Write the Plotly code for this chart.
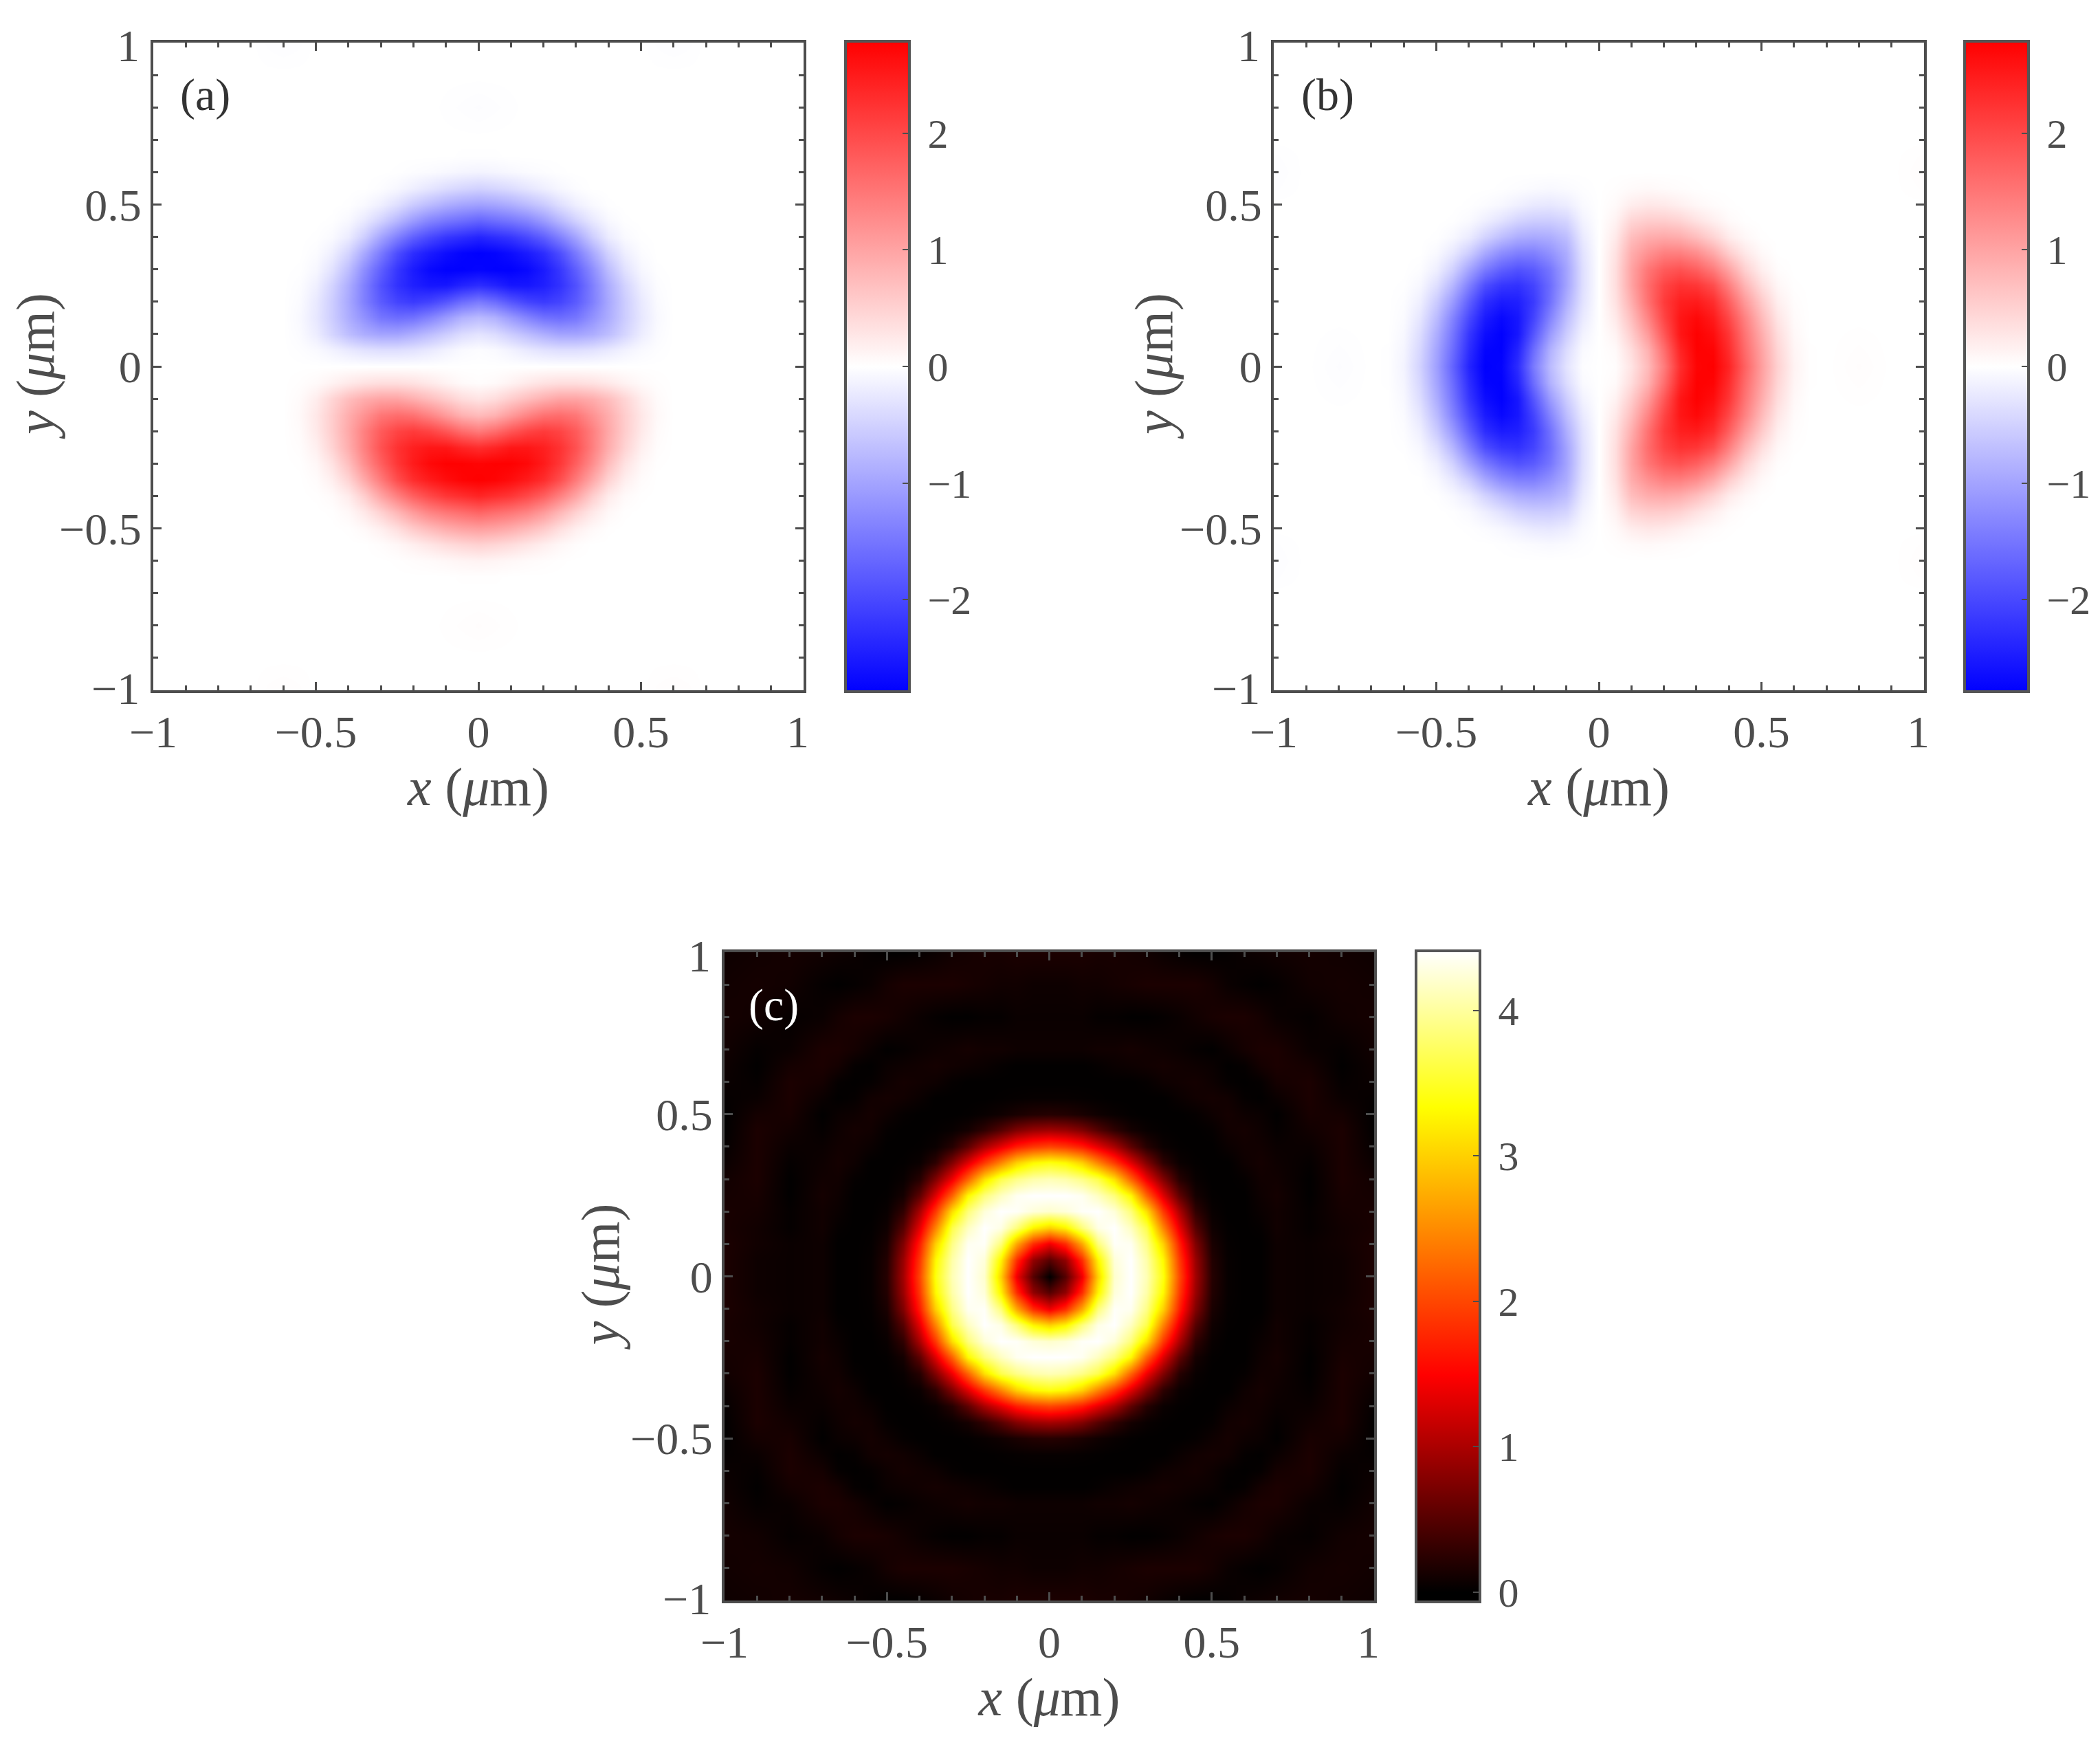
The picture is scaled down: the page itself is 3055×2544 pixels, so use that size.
import numpy as np
import plotly.graph_objects as go

# Sample positions (um) of the values, for x >= 0 and y >= 0
GRID = [0, .05, .1, .15, .2, .25, .3, .35, .4, .45, .5, .55, .6, .65, .7, .8, .9, 1.0]

# |field| in the upper right quadrant of panel (a); rows are y, columns are x
FIELD_QUADRANT = [
    [0, 0, 0, 0, 0, 0, 0, 0, 0, 0, 0, 0, 0, 0, 0, 0, 0, 0],
    [.03, .06, .14, .24, .32, .36, .36, .32, .24, .14, .06, .02, 0, 0, 0, 0, 0, 0],
    [.3, .38, .55, .72, .88, 1.0, 1.0, .9, .72, .46, .2, .05, 0, 0, 0, 0, 0, 0],
    [.75, .85, 1.1, 1.35, 1.55, 1.6, 1.5, 1.2, .9, .55, .26, .07, 0, 0, 0, 0, 0, 0],
    [1.45, 1.6, 1.85, 2.05, 2.15, 2.05, 1.8, 1.4, .95, .55, .24, .05, 0, 0, 0, 0, 0, 0],
    [2.3, 2.4, 2.55, 2.55, 2.45, 2.25, 1.9, 1.4, .9, .48, .17, .03, 0, 0, 0, 0, 0, 0],
    [2.75, 2.78, 2.78, 2.7, 2.5, 2.2, 1.75, 1.25, .72, .32, .09, .01, 0, 0, 0, 0, 0, 0],
    [2.79, 2.75, 2.65, 2.5, 2.3, 1.95, 1.45, .95, .48, .18, .04, 0, 0, 0, 0, 0, 0, 0],
    [2.4, 2.3, 2.2, 2.0, 1.75, 1.4, 1.0, .55, .22, .06, .01, 0, 0, 0, 0, 0, 0, 0],
    [1.7, 1.6, 1.5, 1.35, 1.1, .8, .5, .25, .08, .01, 0, 0, 0, 0, 0, 0, 0, 0],
    [1.05, 1.0, .9, .75, .58, .36, .18, .07, .01, 0, 0, 0, 0, 0, 0, 0, 0, 0],
    [.5, .45, .38, .28, .18, .09, .03, 0, 0, 0, 0, 0, 0, 0, 0, 0, 0, 0],
    [.13, .11, .08, .05, .03, .01, 0, 0, 0, 0, 0, 0, 0, 0, 0, 0, 0, 0],
    [.01, .01, 0, 0, 0, 0, 0, 0, 0, 0, 0, 0, 0, 0, 0, 0, 0, 0],
    [0, 0, 0, 0, 0, 0, 0, 0, 0, 0, 0, 0, 0, 0, 0, 0, 0, 0],
    [.03, .02, .01, 0, 0, 0, 0, 0, 0, 0, 0, 0, 0, 0, 0, 0, 0, 0],
    [0, 0, 0, 0, 0, 0, 0, 0, 0, 0, 0, 0, 0, 0, 0, 0, 0, 0],
    [0, 0, 0, 0, 0, 0, 0, 0, 0, 0, 0, .02, .03, .02, 0, 0, 0, 0],
]

# Intensity in the upper right quadrant of panel (c); rows are y, columns are x
INTENSITY_QUADRANT = [
    [0, .5, 1.4, 3.0, 4.2, 4.41, 4.1, 3.4, 2.0, .95, .22, .04, .01, .01, .08, .06, .08, .16],
    [.5, .85, 1.8, 3.25, 4.25, 4.41, 4.05, 3.3, 1.9, .9, .2, .04, .01, .01, .08, .06, .08, .16],
    [1.4, 1.8, 2.7, 3.85, 4.38, 4.35, 3.9, 3.0, 1.7, .75, .15, .03, .01, .01, .08, .06, .1, .16],
    [3.0, 3.25, 3.85, 4.3, 4.41, 4.15, 3.65, 2.45, 1.35, .5, .09, .02, .01, .03, .1, .03, .1, .14],
    [4.2, 4.25, 4.38, 4.41, 4.25, 3.85, 3.1, 1.9, 1.0, .28, .05, .01, .01, .06, .1, .03, .12, .14],
    [4.41, 4.41, 4.35, 4.15, 3.85, 3.3, 2.2, 1.3, .55, .12, .02, .01, .01, .08, .12, .01, .14, .12],
    [4.1, 4.05, 3.9, 3.65, 3.1, 2.2, 1.4, .75, .22, .05, .01, .01, .03, .1, .1, .01, .16, .1],
    [3.4, 3.3, 3.0, 2.45, 1.9, 1.3, .75, .26, .06, .02, .01, .01, .08, .12, .08, .03, .16, .06],
    [2.0, 1.9, 1.7, 1.35, 1.0, .55, .22, .06, .02, .01, .01, .06, .1, .1, .06, .06, .16, .03],
    [.95, .9, .75, .5, .28, .12, .05, .02, .01, .01, .03, .1, .12, .08, .03, .1, .16, .01],
    [.22, .2, .15, .09, .05, .02, .01, .01, .01, .03, .08, .12, .08, .06, .01, .14, .12, .01],
    [.04, .04, .03, .02, .01, .01, .01, .01, .06, .1, .12, .1, .03, .01, .06, .16, .06, .03],
    [.01, .01, .01, .01, .01, .01, .03, .08, .1, .12, .08, .03, .01, .03, .12, .16, .03, .06],
    [.01, .01, .01, .03, .06, .08, .1, .12, .1, .08, .06, .01, .03, .12, .16, .12, .01, .08],
    [.08, .08, .08, .1, .1, .12, .1, .08, .06, .03, .01, .06, .12, .16, .16, .06, .03, .1],
    [.06, .06, .06, .03, .03, .01, .01, .03, .06, .1, .14, .16, .16, .12, .06, .03, .1, .12],
    [.08, .08, .1, .1, .12, .14, .16, .16, .16, .16, .12, .06, .03, .01, .03, .1, .12, .1],
    [.16, .16, .16, .14, .14, .12, .1, .06, .03, .01, .01, .03, .06, .08, .1, .12, .1, .08],
]

TICK_VALUES = [-1, -0.5, 0, 0.5, 1]
X_TICK_LABELS = ["\u22121", "\u22120.5", "0", "0.5", ""]
Y_TICK_LABELS = ["", "\u22120.5", "0", "0.5", ""]
BAR_FIELD_TICKS = [-2, -1, 0, 1, 2]
BAR_FIELD_LABELS = ["\u2009\u22122", "\u2009\u22121", "\u20090", "\u20091", "\u20092"]
BAR_INTENSITY_TICKS = [0, 1, 2, 3, 4]
BAR_INTENSITY_LABELS = ["\u20090", "\u20091", "\u20092", "\u20093", "\u20094"]
FIELD_LIMIT = 2.79
INTENSITY_RANGE = [-0.066, 4.41]
PANEL_LABELS = ["(a)", "(b)", "(c)"]

W, H = 3055, 2544
FONT = "Liberation Serif"
INK = "#4d4d4d"
FIELD_SCALE = [[0, "#0000ff"], [0.5, "#ffffff"], [1, "#ff0000"]]
HOT_SCALE = [[0, "#000000"], [0.015, "#000000"], [0.348, "#ff0000"], [0.76, "#ffff00"], [1, "#ffffff"]]

g = np.array(GRID, dtype=float)
axis_values = np.concatenate([-g[:0:-1], g])
field = np.array(FIELD_QUADRANT, dtype=float)
intensity = np.array(INTENSITY_QUADRANT, dtype=float)


def unfold(q):
    """Mirror a quadrant (rows y, columns x) over both axes."""
    upper = np.hstack([q[:, :0:-1], q])
    return np.vstack([upper[:0:-1], upper])


sign_y = np.sign(axis_values)[:, None]
sign_x = np.sign(axis_values)[None, :]
z_a = -sign_y * unfold(field)
z_b = sign_x * unfold(field.T)
z_c = unfold(intensity)

# Pixel boxes: plot (x0, x1, y0, y1) and colourbar left edge
panels = [
    dict(z=z_a, box=(223, 1169, 62, 1004), bar=1230, scale=FIELD_SCALE, zr=[-FIELD_LIMIT, FIELD_LIMIT],
         bt=BAR_FIELD_TICKS, bl=BAR_FIELD_LABELS, lab=(298, 138), labc="#333333", ytitle=51),
    dict(z=z_b, box=(1853, 2799, 62, 1004), bar=2858, scale=FIELD_SCALE, zr=[-FIELD_LIMIT, FIELD_LIMIT],
         bt=BAR_FIELD_TICKS, bl=BAR_FIELD_LABELS, lab=(1932, 138), labc="#333333", ytitle=1678),
    dict(z=z_c, box=(1054, 1999, 1385, 2328), bar=2060, scale=HOT_SCALE, zr=INTENSITY_RANGE,
         bt=BAR_INTENSITY_TICKS, bl=BAR_INTENSITY_LABELS, lab=(1125, 1462), labc="#ffffff", ytitle=873),
]

fig = go.Figure()
layout = dict(
    width=W, height=H, margin=dict(l=0, r=0, t=0, b=0, autoexpand=False),
    paper_bgcolor="white", plot_bgcolor="white",
    font=dict(family=FONT, size=66, color=INK), annotations=[],
)


def note(text, px, py, size=66, color=INK, xanchor="center", angle=0):
    layout["annotations"].append(dict(
        text=text, x=px / W, y=1 - py / H, xref="paper", yref="paper",
        xanchor=xanchor, yanchor="middle", showarrow=False, textangle=angle,
        font=dict(family=FONT, size=size, color=color),
    ))


for i, p in enumerate(panels):
    n = "" if i == 0 else str(i + 1)
    x0, x1, y0, y1 = p["box"]
    fig.add_trace(go.Heatmap(
        x=axis_values, y=axis_values, z=p["z"], xaxis="x" + n, yaxis="y" + n,
        colorscale=p["scale"], zmin=p["zr"][0], zmax=p["zr"][1], zsmooth="best",
        hoverinfo="skip",
        colorbar=dict(
            x=p["bar"] / W, xanchor="left", xpad=0, ypad=0,
            y=1 - (y0 + y1) / 2 / H, yanchor="middle",
            lenmode="pixels", len=y1 - y0 + 4, thicknessmode="pixels", thickness=93,
            outlinecolor="#555555", outlinewidth=4, borderwidth=0,
            ticks="inside", ticklen=12, tickwidth=2, tickcolor=INK,
            tickmode="array", tickvals=p["bt"], ticktext=p["bl"],
            tickfont=dict(family=FONT, size=60, color=INK),
        ),
    ))
    common = dict(
        range=[-1, 1], tickmode="array", tickvals=TICK_VALUES,
        showgrid=False, zeroline=False, showline=True, mirror="ticks",
        linecolor=INK, linewidth=4, ticks="inside", ticklen=12, tickwidth=3, tickcolor=INK,
        minor=dict(dtick=0.1, tick0=0, ticks="inside", ticklen=7, tickwidth=3, tickcolor=INK, showgrid=False),
        tickfont=dict(family=FONT, size=66, color=INK),
    )
    layout["xaxis" + n] = dict(
        common, ticktext=X_TICK_LABELS, domain=[x0 / W, x1 / W], anchor="y" + n,
        title=dict(text="<i>x</i> (<i>\u03bc</i>m)", font=dict(family=FONT, size=78, color=INK), standoff=14),
    )
    layout["yaxis" + n] = dict(
        common, ticktext=Y_TICK_LABELS, domain=[1 - y1 / H, 1 - y0 / H], anchor="x" + n,
    )
    # y-axis title and the end labels that sit slightly inside the axis corners
    note("<i>y</i> (<i>\u03bc</i>m)", p["ytitle"], (y0 + y1) / 2, size=78, angle=-90)
    note("1", x1 - 9, y1 + 60)
    note("1", x0 - 18, y0 + 5, xanchor="right")
    note("\u22121", x0 - 18, y1 - 3, xanchor="right")
    note(PANEL_LABELS[i], p["lab"][0], p["lab"][1], color=p["labc"])

fig.update_layout(**layout)
fig.write_html("out.html", config=dict(displayModeBar=False),
               post_script="document.body.style.margin='0';document.documentElement.style.overflow='hidden';")
